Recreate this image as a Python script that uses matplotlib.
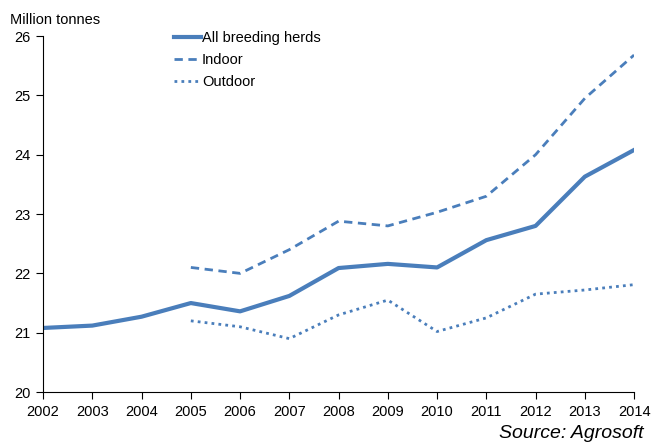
import matplotlib.pyplot as plt

plt.rcParams['font.family'] = ['Liberation Sans', 'DejaVu Sans']

# Data
years = list(range(2002, 2015))
all_herds = [21.08, 21.12, 21.27, 21.50, 21.36, 21.62, 22.09, 22.16, 22.10, 22.56, 22.80, 23.63, 24.08]
indoor_years = list(range(2005, 2015))
indoor = [22.10, 22.00, 22.40, 22.88, 22.80, 23.03, 23.30, 24.00, 24.95, 25.68]
outdoor_years = list(range(2005, 2015))
outdoor = [21.20, 21.10, 20.90, 21.30, 21.55, 21.02, 21.25, 21.65, 21.72, 21.81]

color = '#4a7ebb'

fig = plt.figure(figsize=(6.53, 4.45), dpi=100)
ax = fig.add_axes([0.066, 0.119, 0.905, 0.8])

ax.plot(years, all_herds, color=color, lw=3, label='All breeding herds')
ax.plot(indoor_years, indoor, color=color, lw=2, ls=(0, (3, 2)), label='Indoor')
ax.plot(outdoor_years, outdoor, color=color, lw=2, ls=(0, (1, 1.5)), label='Outdoor')

ax.set_xlim(2002, 2014)
ax.set_ylim(20, 26)
ax.set_xticks(years)
ax.set_yticks(range(20, 27))
ax.tick_params(labelsize=10.5, length=5, color='black', direction='out', pad=4)
for s in ['top', 'right']:
    ax.spines[s].set_visible(False)

leg = ax.legend(loc='upper left', bbox_to_anchor=(0.2, 1.05), frameon=False,
                fontsize=10.5, handlelength=1.8, handletextpad=0.1, labelspacing=0.55)

fig.text(0.015, 0.955, 'Million tonnes', fontsize=10.5, va='center')
fig.text(0.985, 0.025, 'Source: Agrosoft', fontsize=14, style='italic', ha='right', va='center')

fig.savefig('out.png', dpi=100)
